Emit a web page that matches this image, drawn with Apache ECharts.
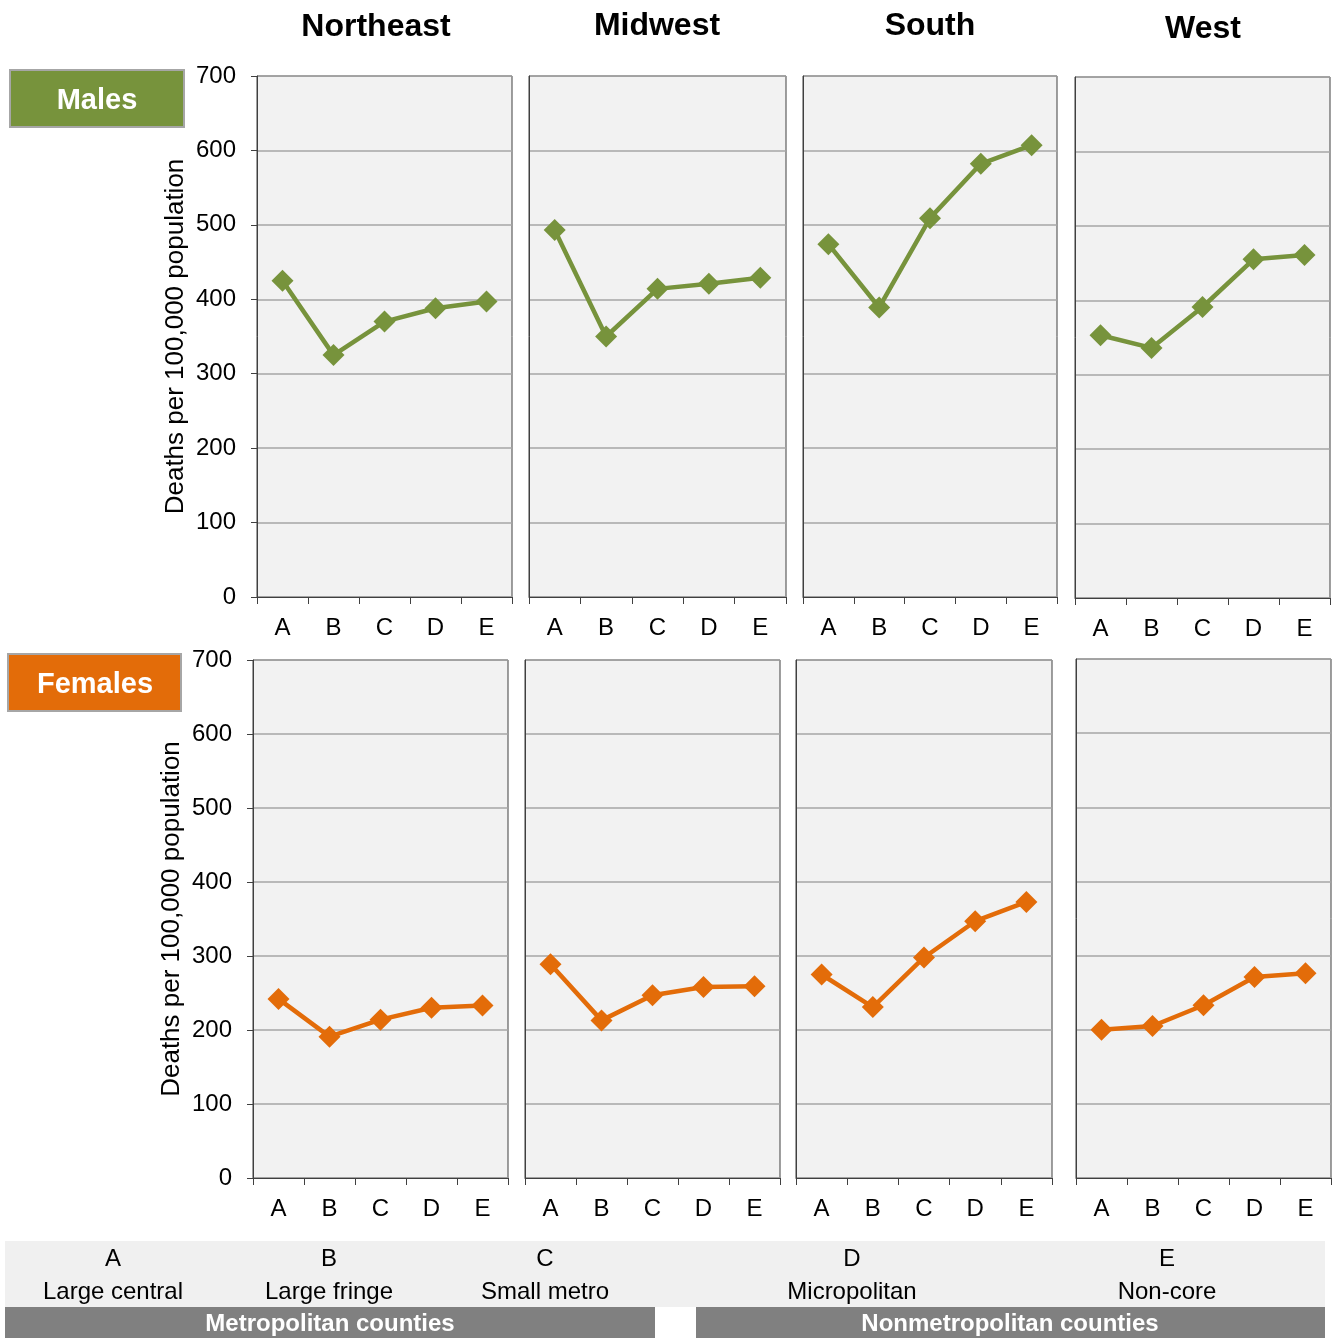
<!DOCTYPE html>
<html>
<head>
<meta charset="utf-8">
<script src="https://cdn.jsdelivr.net/npm/echarts@6/dist/echarts.min.js"></script>
<style>html,body{margin:0;padding:0;background:#fff}#c{width:1333px;height:1338px}</style>
</head>
<body>
<div id="c"></div>
<script>
var categories = ['A','B','C','D','E'];
var regions = ['Northeast','Midwest','South','West'];
var malesNortheast = [425, 325, 370, 388, 397];
var malesMidwest = [493, 350, 414, 421, 429];
var malesSouth = [474, 389, 509, 582, 607];
var malesWest = [353, 336, 391, 455, 461];
var femalesNortheast = [242, 191, 214, 230, 233];
var femalesMidwest = [289, 213, 247, 258, 259];
var femalesSouth = [275, 231, 298, 347, 373];
var femalesWest = [200, 205, 233, 271, 276];
var yTicks = [0, 100, 200, 300, 400, 500, 600, 700];
var categoryNames = ['Large central','Large fringe','Small metro','Micropolitan','Non-core'];
var groupNames = ['Metropolitan counties','Nonmetropolitan counties'];
var rowLabels = ['Males','Females'];
var yTitle = 'Deaths per 100,000 population';

var males = [malesNortheast, malesMidwest, malesSouth, malesWest];
var females = [femalesNortheast, femalesMidwest, femalesSouth, femalesWest];

var FONT = 'Liberation Sans, Arial, sans-serif';
var GREEN = '#77933C', ORANGE = '#E36C09';

var gridDefs = [
  {left:257, top:76, width:255, height:521},
  {left:529, top:76, width:257, height:521},
  {left:803, top:76, width:254, height:521},
  {left:1075, top:77, width:255, height:521},
  {left:253, top:660, width:255, height:518},
  {left:525, top:660, width:255, height:518},
  {left:796, top:660, width:256, height:518},
  {left:1076, top:659, width:255, height:519}
];

var grids = [], xAxes = [], yAxes = [], series = [];
gridDefs.forEach(function(g, i){
  grids.push({left:g.left, top:g.top, width:g.width, height:g.height, show:true,
    backgroundColor:'#F2F2F2', borderColor:'#404040', borderWidth:1, containLabel:false});
  xAxes.push({type:'category', gridIndex:i, data:categories, boundaryGap:true,
    axisLine:{show:true, lineStyle:{color:'#404040', width:1}},
    axisTick:{show:true, length:7, lineStyle:{color:'#404040'}},
    axisLabel:{fontFamily:FONT, fontSize:24, color:'#000', margin:19}});
  var first = (i % 4 === 0);
  yAxes.push({type:'value', gridIndex:i, min:yTicks[0], max:yTicks[yTicks.length-1], interval:100,
    name: first ? yTitle : '', nameLocation:'middle', nameGap: first ? 68 : 0, nameRotate:90,
    nameTextStyle:{fontFamily:FONT, fontSize:26, color:'#000'},
    axisLine:{show:true, lineStyle:{color:'#404040', width:1}},
    axisTick:{show:first, length:6, lineStyle:{color:'#404040'}},
    axisLabel:{show:first, fontFamily:FONT, fontSize:24, color:'#000', margin:21},
    splitLine:{show:true, lineStyle:{color:'#A6A6A6', width:1.5}}});
  var row = i < 4 ? 0 : 1;
  var data = row === 0 ? males[i % 4] : females[i % 4];
  var col = row === 0 ? GREEN : ORANGE;
  series.push({type:'line', xAxisIndex:i, yAxisIndex:i, data:data,
    symbol:'diamond', symbolSize:22, showSymbol:true,
    lineStyle:{color:col, width:4.5}, itemStyle:{color:col},
    animation:false, z:5});
});

var titleX = [376, 657, 930, 1203];
var titleY = [27, 26, 26, 29];
var graphics = regions.map(function(r, k){
  return {type:'text', x:titleX[k], y:titleY[k], style:{text:r, font:'bold 32px ' + FONT, fill:'#000', align:'center', verticalAlign:'middle'}};
});

// Row label boxes
graphics.push({type:'rect', shape:{x:10, y:70, width:174, height:57}, style:{fill:GREEN, stroke:'#A6A6A6', lineWidth:2}});
graphics.push({type:'text', x:97, y:101, style:{text:rowLabels[0], font:'bold 29px ' + FONT, fill:'#fff', align:'center', verticalAlign:'middle'}});
graphics.push({type:'rect', shape:{x:8, y:654, width:173, height:57}, style:{fill:ORANGE, stroke:'#A6A6A6', lineWidth:2}});
graphics.push({type:'text', x:95, y:685, style:{text:rowLabels[1], font:'bold 29px ' + FONT, fill:'#fff', align:'center', verticalAlign:'middle'}});

// Bottom legend band
graphics.push({type:'rect', shape:{x:5, y:1241, width:1320, height:66}, style:{fill:'#F0F0F0'}});
var legX = [113, 329, 545, 852, 1167];
categories.forEach(function(c, k){
  graphics.push({type:'text', x:legX[k], y:1259, style:{text:c, font:'24px ' + FONT, fill:'#000', align:'center', verticalAlign:'middle'}});
  graphics.push({type:'text', x:legX[k], y:1292, style:{text:categoryNames[k], font:'24px ' + FONT, fill:'#000', align:'center', verticalAlign:'middle'}});
});
graphics.push({type:'rect', shape:{x:5, y:1307, width:650, height:31}, style:{fill:'#808080'}});
graphics.push({type:'rect', shape:{x:696, y:1307, width:629, height:31}, style:{fill:'#808080'}});
graphics.push({type:'text', x:330, y:1324, style:{text:groupNames[0], font:'bold 24px ' + FONT, fill:'#fff', align:'center', verticalAlign:'middle'}});
graphics.push({type:'text', x:1010, y:1324, style:{text:groupNames[1], font:'bold 24px ' + FONT, fill:'#fff', align:'center', verticalAlign:'middle'}});

var chart = echarts.init(document.getElementById('c'), null, {renderer:'canvas'});
chart.setOption({
  animation:false,
  backgroundColor:'#fff',
  grid:grids, xAxis:xAxes, yAxis:yAxes, series:series,
  graphic:graphics
});
</script>
</body>
</html>
